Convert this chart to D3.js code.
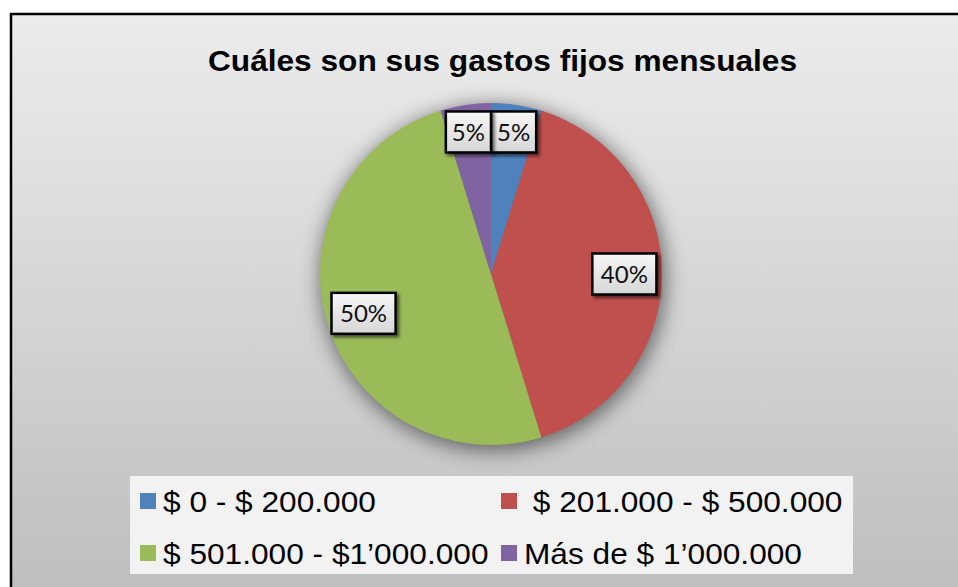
<!DOCTYPE html>
<html>
<head>
<meta charset="utf-8">
<script src="https://cdn.jsdelivr.net/npm/d3@7"></script>
<style>
  body { margin: 0; background: #fff; }
  svg { display: block; }
</style>
</head>
<body>
<div id="viz"></div>
<script>

var title = "Cuáles son sus gastos fijos mensuales";
var categories = ["$ 0 - $ 200.000", " $ 201.000 - $ 500.000", "$ 501.000 - $1’000.000", "Más de $ 1’000.000"];
var counts = [2, 17, 21, 2];
var colors = ["#4f81bd", "#c0504d", "#9bbb59", "#8064a2"];

var viz = { width: 958, height: 587 };
var pieC = { x: 491, y: 274, r: 171 };
var stretch = 1.055; // text in the source is drawn a bit wide

var svg = d3.select("#viz")
  .append("svg")
  .attr("width", viz.width)
  .attr("height", viz.height);

var defs = svg.append("defs");

var bg = defs.append("linearGradient").attr("id", "bg")
  .attr("x1", 0).attr("y1", 0).attr("x2", 0).attr("y2", 1);
bg.append("stop").attr("offset", "0%").attr("stop-color", "#ececec");
bg.append("stop").attr("offset", "100%").attr("stop-color", "#bcbcbc");

var boxFill = defs.append("linearGradient").attr("id", "boxFill")
  .attr("x1", 0).attr("y1", 0).attr("x2", 0).attr("y2", 1);
boxFill.append("stop").attr("offset", "0%").attr("stop-color", "#f7f7f7");
boxFill.append("stop").attr("offset", "100%").attr("stop-color", "#d6d6d6");

var halo = defs.append("filter").attr("id", "halo")
  .attr("x", "-30%").attr("y", "-30%").attr("width", "160%").attr("height", "160%");
halo.append("feGaussianBlur").attr("in", "SourceAlpha").attr("stdDeviation", 10);

var boxShadow = defs.append("filter").attr("id", "boxShadow")
  .attr("x", "-20%").attr("y", "-20%").attr("width", "150%").attr("height", "150%");
boxShadow.append("feDropShadow").attr("dx", 2.5).attr("dy", 2.5)
  .attr("stdDeviation", 1.5).attr("flood-color", "#000").attr("flood-opacity", 0.55);

// chart area
svg.append("rect")
  .attr("x", 11).attr("y", 14)
  .attr("width", viz.width + 20).attr("height", viz.height + 20)
  .attr("fill", "url(#bg)")
  .attr("stroke", "#000").attr("stroke-width", 2.5);

// title
svg.append("text")
  .attr("transform", "translate(502.5,71) scale(" + stretch + ",1)")
  .attr("text-anchor", "middle")
  .style("font-family", "'Liberation Sans', Arial, sans-serif")
  .style("font-weight", "bold")
  .style("font-size", "30px")
  .attr("fill", "#000")
  .text(title);

// pie
var total = d3.sum(counts);
var pie = d3.pie().sort(null).value(function(d) { return d; });
var arcs = pie(counts);
var arc = d3.arc().innerRadius(0).outerRadius(pieC.r);

var g = svg.append("g").attr("transform", "translate(" + pieC.x + "," + pieC.y + ")");

g.append("circle")
  .attr("cx", 2).attr("cy", 4).attr("r", pieC.r + 2)
  .attr("fill", "#000").attr("opacity", 0.5)
  .attr("filter", "url(#halo)");

g.selectAll(".slice")
  .data(arcs).enter()
  .append("path")
  .attr("class", "slice")
  .attr("d", arc)
  .attr("fill", function(d, i) { return colors[i]; });

// data labels
var labelArc = d3.arc().innerRadius(pieC.r * 0.78).outerRadius(pieC.r * 0.78);
var farArc = d3.arc().innerRadius(pieC.r * 0.84).outerRadius(pieC.r * 0.84);

var labels = arcs.map(function(d, i) {
  var share = d.value / total;
  var c = share < 0.1 ? farArc.centroid(d) : labelArc.centroid(d);
  return { txt: Math.round(share * 100) + "%", x: c[0], y: c[1], i: i };
});

var lg = g.selectAll(".dlabel")
  .data(labels).enter()
  .append("g")
  .attr("class", "dlabel");

lg.append("text")
  .attr("text-anchor", "middle")
  .attr("dy", "0.36em")
  .style("font-family", "Lato, 'Open Sans', sans-serif")
  .style("font-size", "24px")
  .attr("fill", "#111")
  .text(function(d) { return d.txt; });

lg.each(function(d) {
  var w = this.querySelector("text").getBBox().width;
  d.w = w + (d.txt.length > 2 ? 17 : 12);
  d.h = 41;
});

// push overlapping boxes apart sideways
for (var a = 0; a < labels.length; a++) {
  for (var b = a + 1; b < labels.length; b++) {
    var p = labels[a], q = labels[b];
    var ox = (p.w + q.w) / 2 - Math.abs(p.x - q.x);
    var oy = (p.h + q.h) / 2 - Math.abs(p.y - q.y);
    if (ox > 0 && oy > 0) {
      var s = p.x < q.x ? -1 : 1;
      p.x += s * ox / 2; q.x -= s * ox / 2;
      var my = (p.y + q.y) / 2; p.y = my; q.y = my;
    }
  }
}

lg.attr("transform", function(d) { return "translate(" + d.x + "," + d.y + ")"; });

lg.insert("rect", "text")
  .attr("x", function(d) { return -d.w / 2; })
  .attr("y", function(d) { return -d.h / 2; })
  .attr("width", function(d) { return d.w; })
  .attr("height", function(d) { return d.h; })
  .attr("fill", "url(#boxFill)")
  .attr("stroke", "#000").attr("stroke-width", 2.5)
  .attr("filter", "url(#boxShadow)");

// legend
var legend = svg.append("g");
legend.append("rect")
  .attr("x", 130).attr("y", 476)
  .attr("width", 723).attr("height", 98)
  .attr("fill", "#f2f2f2");

var colX = [140, 501], rowY = [501, 553];

var items = legend.selectAll(".item")
  .data(categories).enter()
  .append("g")
  .attr("class", "item")
  .attr("transform", function(d, i) { return "translate(" + colX[i % 2] + "," + rowY[Math.floor(i / 2)] + ")"; });

items.append("rect")
  .attr("x", 0).attr("y", -8)
  .attr("width", 16).attr("height", 16)
  .attr("fill", function(d, i) { return colors[i]; });

items.append("text")
  .attr("transform", "translate(23,11) scale(" + stretch + ",1)")
  .style("font-family", "'Liberation Sans', Arial, sans-serif")
  .style("font-size", "30px")
  .style("white-space", "pre")
  .attr("xml:space", "preserve")
  .attr("fill", "#000")
  .text(function(d) { return d; });

</script>
</body>
</html>
